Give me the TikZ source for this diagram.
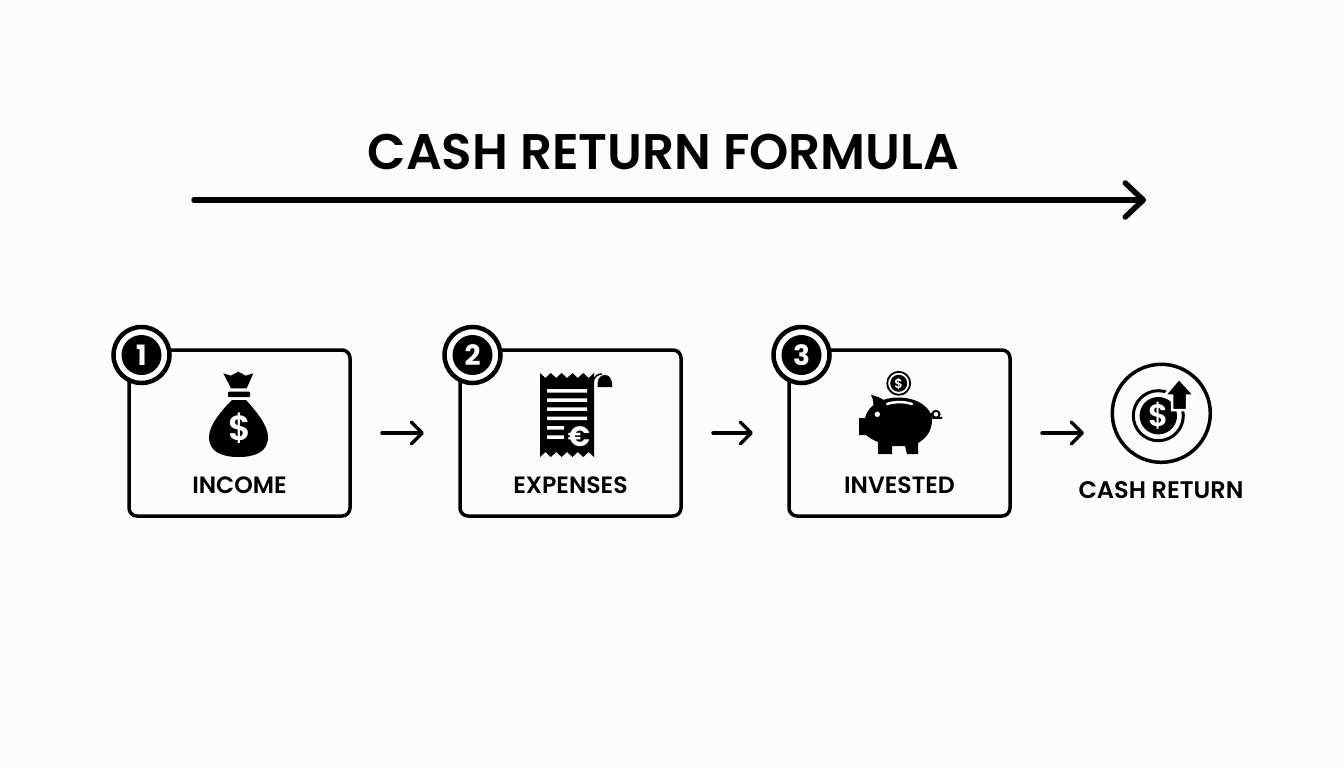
\documentclass[tikz,border=0pt]{standalone}
\usepackage{fontspec}
\setmainfont{Poppins}[BoldFont={Poppins SemiBold}]
\newfontfamily\numfont{Poppins Bold}
\usetikzlibrary{positioning,arrows.meta}
\tikzset{
  stepbox/.style={draw,rounded corners=8pt,line width=3.5pt,minimum width=221pt,minimum height=166pt,inner sep=0pt,outer sep=0pt},
  badgering/.style={circle,draw,fill=white,line width=4.5pt,minimum size=56pt,inner sep=0pt,outer sep=0pt},
  badgenum/.style={circle,fill=black,text=white,minimum size=40pt,inner sep=0pt,font=\numfont\fontsize{28}{28}\selectfont},
  steplabel/.style={inner sep=0pt,font=\bfseries\fontsize{23.6}{24}\selectfont},
  flow/.style={line width=3.5pt,line cap=round,-{Straight Barb[length=11pt,width=22pt,round]}},
  whiteglyph/.style={text=white,inner sep=0pt}
}
\begin{document}
\begin{tikzpicture}[x=1pt,y=-1pt,node distance=110pt]
\useasboundingbox[fill=white!99!black] (0,0) rectangle (1344,768);
\node[inner sep=0pt,font=\bfseries\fontsize{50}{50}\selectfont] (title) at (663.5,152) {CASH RETURN FORMULA};
\coordinate (longstart) at (194,200);
\coordinate (longend) at (1146,200);
\draw[line width=5.5pt,line cap=round,-{Straight Barb[length=18pt,width=34pt,round]}] (longstart) -- (longend);
% the three steps
\node[stepbox] (income) at (239.5,433) {};
\node[stepbox] (expenses) [right = of income] {};
\node[stepbox] (invested) [right = 108pt of expenses] {};
\node[badgering] (ringone) at ([xshift=12.5pt,yshift=-5pt]income.north west) {};
\node[badgenum] (numone) at (ringone) {1};
\node[badgering] (ringtwo) at ([xshift=12.5pt,yshift=-5pt]expenses.north west) {};
\node[badgenum] (numtwo) at (ringtwo) {2};
\node[badgering] (ringthree) at ([xshift=12.5pt,yshift=-5pt]invested.north west) {};
\node[badgenum] (numthree) at (ringthree) {3};
\node[steplabel] (incometext) at ([yshift=-52pt]income.center) {INCOME};
\node[steplabel] (expensestext) at ([yshift=-52pt]expenses.center) {EXPENSES};
\node[steplabel] (investedtext) at ([yshift=-52pt]invested.center) {INVESTED};
% money bag
\fill (223.3,373.3) -- (230.7,375.7) -- (238.3,371.7) -- (245.7,375.7) -- (253.3,373.3) -- (246.7,388.3) -- (231,388.3) -- cycle;
\fill[rounded corners=1pt] (228,391.5) rectangle (250,397);
\fill (232,400) .. controls (222,410) and (209,425) .. (209,437) .. controls (209,452) and (222,457) .. (238.5,457) .. controls (255,457) and (268,452) .. (268,437) .. controls (268,425) and (255,410) .. (246,400) -- cycle;
\node[whiteglyph,font=\bfseries\fontsize{35}{35}\selectfont] (bagdollar) at (239.5,428) {\$};
% receipt
\fill (540,373) \foreach \i in {1,...,5} {-- ++(5.4,5) -- ++(5.4,-5)} -- (594,457) \foreach \i in {1,...,5} {-- ++(-5.4,-5) -- ++(-5.4,5)} -- cycle;
\fill[white] (547,389) rectangle (587,392.5) (547,398.3) rectangle (587,401.8) (547,407.3) rectangle (587,410.8) (547,416.6) rectangle (587,420.1) (547,426) rectangle (564,429.5) (547,435.3) rectangle (564,438.8);
\node[whiteglyph,font=\numfont\fontsize{28}{28}\selectfont] (receipteuro) at (579,437) {€};
\draw[line width=1.5pt] (593,382) .. controls (594,377) and (597,374) .. (602,374);
\fill (597.7,387) -- (597.7,383) .. controls (597.7,378) and (601,375) .. (605,375) .. controls (609,375) and (612.3,378) .. (612.3,387) -- cycle;
% piggy bank
\fill (865,418) .. controls (868,405) and (882,397.5) .. (898,397.5) .. controls (918,397.5) and (932,408) .. (932,420) .. controls (932,432) and (925,439) .. (918,443) -- (918,454) -- (907,454) -- (905,446) -- (892,446) -- (892,454) -- (878,454) -- (878,442) .. controls (873,440) and (868,437) .. (866,435) -- (859,435) -- (859,418) -- cycle;
\fill (871,395) .. controls (876,396) and (882,398) .. (886,402) -- (872,412) .. controls (874,406) and (874,400) .. (871,395) -- cycle;
\fill[white] (877.3,414.3) circle[radius=2.7];
\draw[white,line width=2.5pt,line cap=round] (887,404) .. controls (894,401.5) and (905,401.5) .. (912,404);
\draw[line width=2pt] (936,414.3) circle[radius=3.5];
\draw[line width=2pt] (931,413) -- (933,417.8) -- (942,417.8);
\draw[line width=1.8pt] (898.7,383.3) circle[radius=11.5];
\fill (898.7,383.3) circle[radius=8.5];
\node[whiteglyph,font=\bfseries\fontsize{13}{13}\selectfont] (coindollar) at (898.7,383.5) {\$};
% cash return
\node[circle,draw,line width=3.5pt,minimum size=98pt,inner sep=0pt,outer sep=0pt] (cash) at (1161.3,413.3) {};
\node[steplabel,font=\bfseries\fontsize{24}{24}\selectfont] (cashtext) at (1161,490) {CASH RETURN};
\draw[line width=3pt] (1158.3,415.7) circle[radius=25];
\fill (1158.3,415.7) circle[radius=18.7];
\node[whiteglyph,font=\bfseries\fontsize{31}{31}\selectfont] (cashdollar) at (1158.5,416) {\$};
\path[fill=black,draw=white,line width=2.5pt] (1179,378.5) -- (1194.5,395.5) -- (1187,395.5) -- (1187,410) -- (1172,410) -- (1172,395.5) -- (1164.5,395.5) -- cycle;
% arrows between the steps
\coordinate (cashin) at (1084,433);
\draw[flow,shorten <=32pt,shorten >=36pt] (income) -- (expenses);
\draw[flow,shorten <=32pt,shorten >=36pt] (expenses) -- (invested);
\draw[flow,shorten <=32pt] (invested) -- (cashin);
\end{tikzpicture}
\end{document}
